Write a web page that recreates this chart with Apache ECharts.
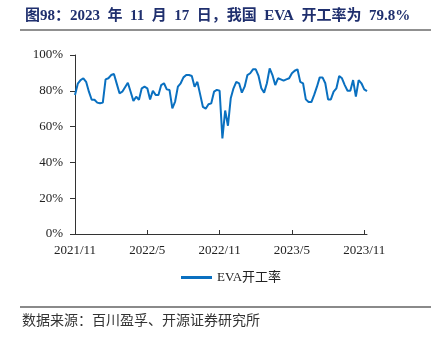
<!DOCTYPE html>
<html><head><meta charset="utf-8">
<script src="https://cdn.jsdelivr.net/npm/echarts@6/dist/echarts.min.js"></script>
<style>html,body{margin:0;padding:0;background:#fff}#c{width:431px;height:343px}</style>
</head><body><div id="c"></div>
<script>
// weekly dates, index 0 = 2021-11-12 ... index 105 = 2023-11-17
const startDate = '2021-11-12';
const weekCount = 106;
const categories = [];
(function(){const d0=new Date(startDate+'T00:00:00Z');for(let i=0;i<weekCount;i++){const d=new Date(d0.getTime()+i*7*86400000);categories.push(d.getUTCFullYear()+'/'+(d.getUTCMonth()+1)+'/'+d.getUTCDate());}})();
const evaRate = [
77.7,84,86,87,85,79.5,75,75,73.4,73,73.4,86.4,87,88.8,89.4,84,78.6,79.5,82,84.5,
79.5,74.3,76.7,75,81.4,82.3,81.4,75.2,80,77.7,77.7,83.2,84.2,80.8,80.4,70.2,74,82.3,84.2,87.5,
88.8,88.8,88.3,82.3,85,78,71,70,72.5,73,79.5,80.5,80,53.4,69,60.5,75.8,81.4,85,84.2,
79,82.3,88.8,89.8,92,92,88.3,81.4,79,84.2,92.5,88.8,83.2,87,86.4,85.7,86.4,87,89.8,91.2,
92,85,84.2,75.2,73.7,73.7,77.7,82.3,87.5,87.5,84.2,75.2,75.2,79.5,81.4,88.3,87,83.2,80,80,
86,76.7,86,84.2,80.8,79.8
];
const yTicks = [0,20,40,60,80,100];
const seriesName = 'EVA开工率';
const titleText = '图98：2023\u2002年\u200211\u2002月\u200217\u2002日，我国\u2002EVA\u2002开工率为\u200279.8%';
const sourceText = '数据来源：百川盈孚、开源证券研究所';

const chart = echarts.init(document.getElementById('c'));
const serif = '"Liberation Serif","Times New Roman","Noto Sans CJK SC",serif';
chart.setOption({
  animation:false,
  title:{text:titleText,left:20,top:4,textStyle:{fontFamily:serif,fontSize:15,fontWeight:'bold',color:'#1F2F6E'}},
  graphic:[
    {type:'line',shape:{x1:20,y1:30,x2:431,y2:30},style:{stroke:'#222',lineWidth:1.2}},
    {type:'line',shape:{x1:20,y1:307,x2:431,y2:307},style:{stroke:'#8a8a8a',lineWidth:1.8}},
    {type:'text',left:22,top:313,style:{text:sourceText,font:'14px "Noto Sans CJK SC",serif',fill:'#333'}}
  ],
  legend:{top:266,left:176,itemWidth:31,itemHeight:3,itemGap:3,icon:'rect',
    textStyle:{fontFamily:serif,fontSize:13,color:'#222'},data:[seriesName]},
  grid:{left:75,right:64,top:55,bottom:109,containLabel:false},
  xAxis:{type:'category',data:categories,boundaryGap:false,
    axisLine:{lineStyle:{color:'#333',width:1}},
    axisTick:{inside:true,length:4,interval:25,lineStyle:{color:'#333'}},
    axisLabel:{interval:25,margin:10,fontFamily:serif,fontSize:13,color:'#222',
      formatter:v=>{const p=v.split('/');return p[0]+'/'+p[1];}}},
  yAxis:{type:'value',min:0,max:100,interval:20,
    axisLine:{show:true,lineStyle:{color:'#333',width:1}},
    axisTick:{show:true,length:5,lineStyle:{color:'#333'}},
    splitLine:{show:false},
    axisLabel:{margin:12,fontFamily:serif,fontSize:13,color:'#222',formatter:v=>v+'%'}},
  series:[{name:seriesName,type:'line',data:evaRate,showSymbol:false,symbol:'none',
    lineStyle:{color:'#0A70C0',width:2},itemStyle:{color:'#0A70C0'}}]
});
</script></body></html>
